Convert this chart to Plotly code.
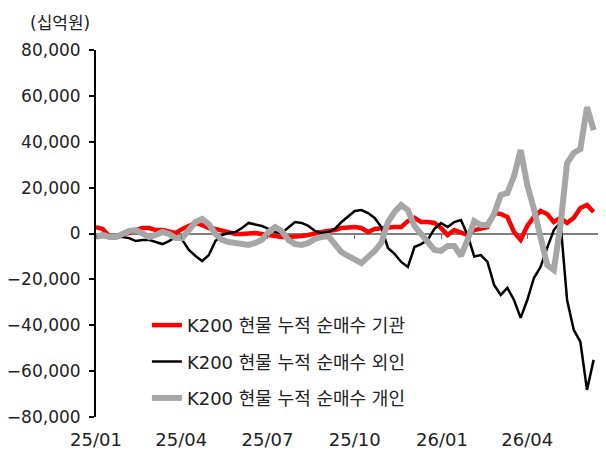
import plotly.graph_objects as go
import pandas as pd

# weekly observation dates (Wednesdays), 2025-01-01 .. 2026-06-10
dates = pd.date_range("2025-01-01", periods=76, freq="7D")

inst = [2800, 2000, -1100, -1500, -200, 200, 1500, 2400, 2400, 1500,
        1500, 650, 200, 2000, 3300, 4600, 3700, 2400, 2000, 1100,
        200, -200, -200, 200, 200, -200, -650, -1100, -1500, -1500,
        -1500, -1100, -650, 200, 650, 1100, 1500, 2400, 2800, 2800,
        2400, 650, 2000, 2400, 2400, 2800, 2800, 5400, 6800, 5000,
        5000, 4600, 2400, -650, 1500, 200, -650, 1500, 2400, 2800,
        8900, 8500, 7200, 650, -2800, 3300, 7200, 9800, 8500, 5000,
        6800, 4600, 6800, 11100, 12400, 9400]

foreign = [-1500, -1500, -1500, -1500, -1500, -2000, -3300, -2800, -2800, -3700,
           -4600, -3300, -1500, -2800, -7200, -9800, -12000, -9400, -3300, -650,
           200, 650, 2400, 4600, 4100, 3300, 2000, 650, 200, 2400,
           5000, 4600, 3300, 1100, 200, 650, 2000, 5000, 7600, 9800,
           10200, 8900, 6800, 2800, -6300, -8900, -12400, -14600, -5900, -4600,
           -2800, 2000, 4600, 2800, 5000, 5900, -650, -10000, -9400, -12400,
           -22400, -26800, -23700, -29000, -36800, -29000, -19400, -14600, -6300, 1500,
           5000, -29000, -42000, -47200, -68200, -55100]

retail = [-1500, -650, -1500, -1500, -200, 1100, 1500, -200, -1500, -650,
          650, -200, -2000, -2000, 1500, 5000, 6300, 4100, -200, -2800,
          -3700, -4100, -4600, -5000, -4100, -2800, 650, 2800, 1100, -2800,
          -4600, -5000, -4100, -2400, -1500, -1100, -4600, -8100, -9800, -11500,
          -12900, -10200, -7600, -4100, 5000, 9400, 12400, 10200, 3300, -200,
          -4100, -7200, -7600, -5400, -5400, -9800, -2800, 5400, 3700, 3700,
          8500, 16800, 17600, 25000, 36400, 21100, 10700, -2800, -13700, -15900,
          3700, 30700, 35100, 36800, 55100, 45100]

names = ["K200 현물 누적 순매수 기관", "K200 현물 누적 순매수 외인", "K200 현물 누적 순매수 개인"]
colors = ["#FF0000", "#000000", "#A6A6A6"]
widths = [4.5, 2.5, 6]

tick_dates = ["2025-01-01", "2025-04-01", "2025-07-01", "2025-10-01", "2026-01-01", "2026-04-01"]
tick_text = ["25/01", "25/04", "25/07", "25/10", "26/01", "26/04"]

FONT = "DejaVu Sans, Noto Sans CJK KR, sans-serif"
TXT = "#222222"
FS = 18

fig = go.Figure()
for i, (vals, nm) in enumerate(zip([inst, foreign, retail], names)):
    fig.add_trace(go.Scatter(
        x=dates, y=vals, name=nm, mode="lines",
        line=dict(color=colors[i], width=widths[i]),
        legendgroup=f"g{i}",
    ))
# helper trace to register the zero-position tick axis
fig.add_trace(go.Scatter(x=[], y=[], xaxis="x2", showlegend=False, hoverinfo="skip"))

# page body has an 8px margin, so the figure is 8px smaller than the window
fig.update_layout(
    width=598, height=448,
    margin=dict(l=88, r=1, t=42, b=39, autoexpand=False),
    paper_bgcolor="white", plot_bgcolor="white",
    font=dict(family=FONT, size=FS, color=TXT),
    showlegend=True,
    legend=dict(
        x=0.1, y=0.30, xanchor="left", yanchor="top",
        bgcolor="rgba(0,0,0,0)", borderwidth=0,
        font=dict(family=FONT, size=FS, color=TXT),
        tracegroupgap=10,
    ),
    xaxis=dict(
        type="date", range=["2025-01-01", "2026-06-22"], automargin=False,
        tickmode="array", tickvals=tick_dates, ticktext=tick_text,
        showline=False, ticks="", showgrid=False, zeroline=False,
        ticklabelstandoff=10,
        tickfont=dict(family=FONT, size=FS, color=TXT),
    ),
    xaxis2=dict(
        type="date", overlaying="x", matches="x", anchor="free", position=0.5,
        side="bottom", automargin=False,
        tickmode="array", tickvals=tick_dates, ticktext=tick_text,
        showticklabels=False, showline=False, ticks="outside", ticklen=4,
        tickwidth=1, tickcolor="#707070", showgrid=False, zeroline=False,
    ),
    yaxis=dict(
        range=[-80000, 80000], tickmode="linear", tick0=0, dtick=20000,
        tickformat=",d", automargin=False,
        showline=True, linecolor="black", linewidth=2,
        ticks="outside", ticklen=5, tickwidth=2, tickcolor="black",
        showgrid=False, zeroline=True, zerolinecolor="#808080", zerolinewidth=2,
        ticklabelstandoff=5,
        tickfont=dict(family=FONT, size=17, color=TXT),
    ),
    annotations=[dict(
        text="(십억원)", xref="paper", yref="paper",
        x=-0.008, y=1.074, xanchor="right", yanchor="middle",
        showarrow=False, font=dict(family=FONT, size=17, color=TXT),
    )],
)

fig.write_html("out.html")
